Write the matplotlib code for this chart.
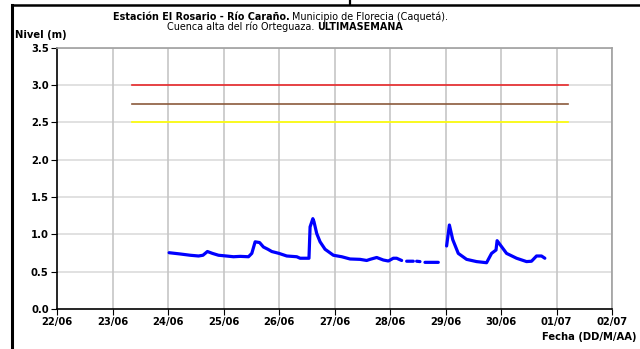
import numpy as np
import matplotlib
matplotlib.use("Agg")
import matplotlib.pyplot as plt
from matplotlib.lines import Line2D

plt.rcParams['font.family'] = ['DejaVu Sans']

# Tick labels (days from 22/06)
day_labels = ["22/06", "23/06", "24/06", "25/06", "26/06", "27/06",
              "28/06", "29/06", "30/06", "01/07", "02/07"]

# Thresholds (alert levels) and their span in days since 22/06
threshold_levels = [3.0, 2.75, 2.5]
threshold_colors = ["#e8282a", "#8b5a3c", "#ffff00"]
threshold_start = 1.35
threshold_end = 9.21

# Water level series (days since 22/06 00:00, level in m); NaN = gaps
t_days = [2.02, 2.22, 2.40, 2.55, 2.63, 2.71, 2.80, 2.91, 3.05, 3.18, 3.30, 3.45,
          3.51, 3.57, 3.65, 3.72, 3.80, 3.87, 4.00, 4.14, 4.32, 4.38, 4.54,
          4.56, 4.61, 4.63, 4.68, 4.74, 4.83, 4.98, 5.13, 5.28, 5.46, 5.58,
          5.64, 5.76, 5.88, 5.97, 6.06, 6.12, 6.21,
          6.25, 6.30, 6.42, 6.45, 6.48, 6.54, 6.58, 6.63, 6.87, 6.95,
          7.02, 7.07, 7.13, 7.23, 7.38, 7.56, 7.74, 7.83, 7.91, 7.93, 8.01,
          8.10, 8.28, 8.46, 8.55, 8.64, 8.73, 8.79]
level = [0.754, 0.737, 0.72, 0.71, 0.72, 0.77, 0.745, 0.72, 0.71, 0.70, 0.705, 0.70,
         0.745, 0.90, 0.89, 0.83, 0.80, 0.77, 0.745, 0.71, 0.70, 0.68, 0.68,
         1.10, 1.21, 1.17, 1.01, 0.90, 0.80, 0.72, 0.70, 0.67, 0.665, 0.65,
         0.665, 0.69, 0.656, 0.643, 0.68, 0.68, 0.65,
         np.nan, 0.64, 0.64, np.nan, 0.64, 0.635, np.nan, 0.625, 0.625, np.nan,
         0.844, 1.125, 0.93, 0.745, 0.665, 0.635, 0.62, 0.745, 0.79, 0.915, 0.835,
         0.745, 0.68, 0.635, 0.64, 0.71, 0.71, 0.68]

W, H = 640, 349
fig = plt.figure(figsize=(W / 100, H / 100), dpi=100)
ax = fig.add_axes([57 / W, 1 - 309 / H, 555 / W, 261.3 / H])

ax.set_xlim(0, 10)
ax.set_ylim(0, 3.5)
ax.set_xticks(range(len(day_labels)))
ax.set_xticklabels(day_labels)
yt = np.arange(0, 3.51, 0.5)
ax.set_yticks(yt)
ax.set_yticklabels([f"{v:.1f}" for v in yt])

for v in yt[1:]:
    ax.axhline(v, color="#dedede", lw=1.3, zorder=0)
for d in range(1, 11):
    ax.axvline(d, color="#c6c6c6", lw=1.2, zorder=0)

for lvl, c in zip(threshold_levels, threshold_colors):
    ax.plot([threshold_start, threshold_end], [lvl, lvl], color=c, lw=1.2, zorder=2)

ax.plot(t_days, level, color="#0000ff", lw=2.3, zorder=3, solid_capstyle='round')

for s in ["left", "bottom"]:
    ax.spines[s].set_color("black")
    ax.spines[s].set_linewidth(1.2)
for s in ["top", "right"]:
    ax.spines[s].set_color("#a0a0a0")
    ax.spines[s].set_linewidth(1.2)

ax.tick_params(axis="both", length=4, width=0.8, color="black", pad=2)
for lab in ax.get_xticklabels() + ax.get_yticklabels():
    lab.set_fontweight("bold")
    lab.set_fontsize(7.2)

# Titles (two lines, mixed bold / normal)
fs = 6.9
renderer = fig.canvas.get_renderer()

def run(parts, x0_px, base_px):
    x = x0_px
    for txt, wt in parts:
        t = fig.text(x / W, 1 - base_px / H, txt, ha="left", va="baseline",
                     fontsize=fs, fontweight=wt)
        bb = t.get_window_extent(renderer=renderer)
        x = bb.x1

run([("Estación El Rosario - Río Caraño.", "bold"),
     (" Municipio de Florecia (Caquetá).", "normal")], 112.7, 20.5)
run([("Cuenca alta del río Orteguaza. ", "normal"),
     ("ULTIMASEMANA", "bold")], 167, 30)

fig.text(15 / W, 1 - 38.5 / H, "Nivel (m)", ha="left", va="baseline",
         fontsize=7.2, fontweight="bold")
fig.text(636 / W, 1 - 340 / H, "Fecha (DD/M/AA)", ha="right", va="baseline",
         fontsize=7.2, fontweight="bold")

# Frame of the figure
fig.add_artist(Line2D([11.5 / W, 11.5 / W], [0.0, 1 - 5 / H], color="black", lw=2.2,
                      transform=fig.transFigure))
fig.add_artist(Line2D([11.5 / W, 1.0], [1 - 5 / H, 1 - 5 / H], color="black", lw=1.8,
                      transform=fig.transFigure))
fig.add_artist(Line2D([350 / W, 350 / W], [1 - 3.5 / H, 1.0], color="black", lw=1.6,
                      transform=fig.transFigure))

fig.savefig("out.png", dpi=100)
